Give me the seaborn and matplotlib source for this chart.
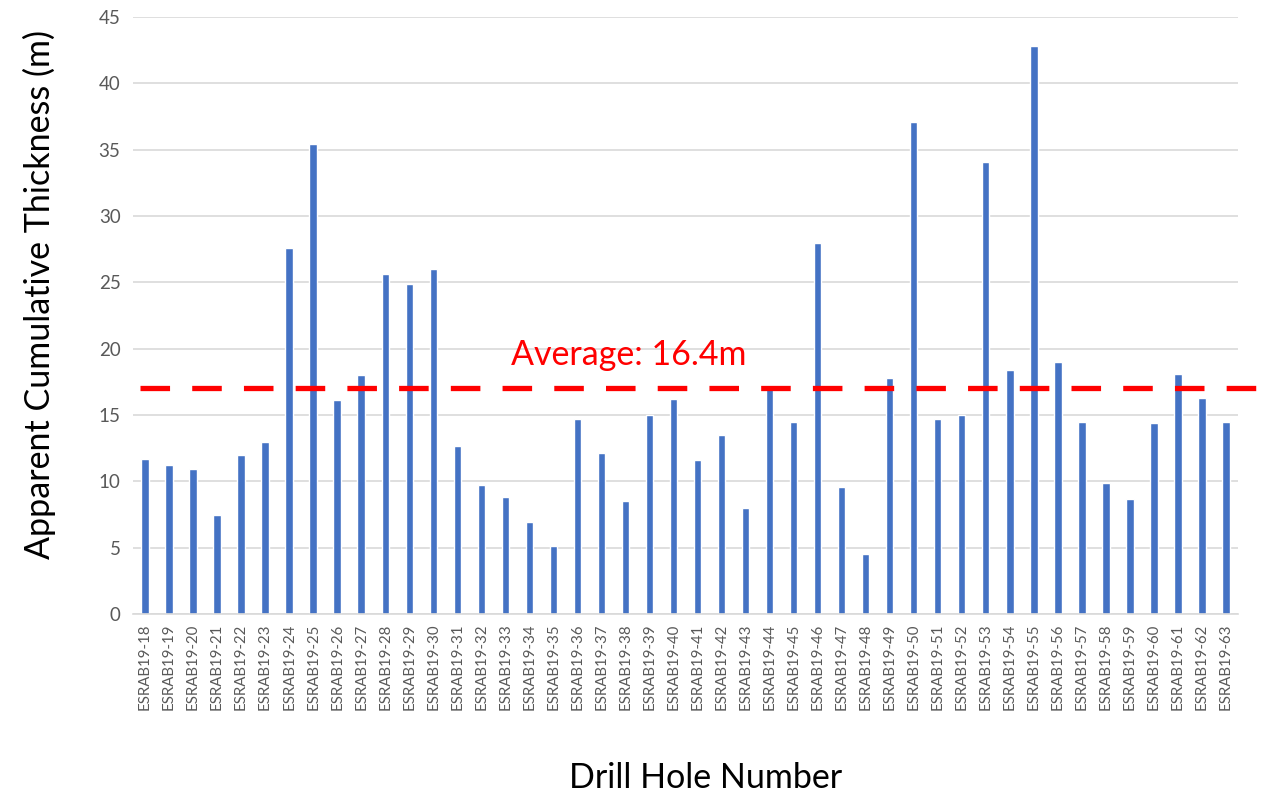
import matplotlib
matplotlib.use("Agg")
import matplotlib.pyplot as plt
import matplotlib.transforms as mtransforms
import seaborn as sns
import pandas as pd

holes = [f"ESRAB19-{n}" for n in range(18, 64)]
thickness = [11.7, 11.2, 10.9, 7.5, 12.0, 13.0, 27.6, 35.4, 16.1, 18.0,
             25.6, 24.9, 26.0, 12.7, 9.7, 8.8, 6.9, 5.1, 14.7, 12.1,
             8.5, 15.0, 16.2, 11.6, 13.5, 8.0, 17.0, 14.5, 28.0, 9.6,
             4.5, 17.8, 37.1, 14.7, 15.0, 34.1, 18.4, 42.8, 19.0, 14.5,
             9.9, 8.7, 14.4, 18.1, 16.3, 14.5]
average_line = 17.05
average_label = "Average: 16.4m"
y_ticks = [0, 5, 10, 15, 20, 25, 30, 35, 40, 45]

df = pd.DataFrame({"hole": holes, "thickness": thickness})

sns.set_theme(style="white")
plt.rcParams['font.family'] = ['Lato', 'DejaVu Sans']

fig = plt.figure(figsize=(12.61, 7.93), dpi=100)
ax = fig.add_axes([133/1261, 1 - 614/793, (1238-133)/1261, (614-17)/793])

sns.barplot(data=df, x="hole", y="thickness", color="#4472C4", width=0.31,
            saturation=1, ax=ax, zorder=2)

ax.set_ylim(0, 45)
ax.set_xlim(-0.5, len(holes) - 0.5)
ax.set_yticks(y_ticks)
ax.set_yticklabels([str(t) for t in y_ticks], fontsize=13.5, color="#595959")
ax.yaxis.grid(True, color="#D9D9D9", linewidth=1.2, zorder=0)
ax.set_axisbelow(True)
for s in ["top", "right", "left"]:
    ax.spines[s].set_visible(False)
ax.spines["bottom"].set_color("#D9D9D9")
ax.spines["bottom"].set_linewidth(1.2)
ax.tick_params(axis="both", length=0, pad=9)
ax.tick_params(axis="x", pad=7)
plt.setp(ax.get_xticklabels(), rotation=90, fontsize=10.8, color="#595959")

ax.set_ylabel("Apparent Cumulative Thickness (m)", fontsize=24.5, color="black")
ax.yaxis.set_label_coords(-0.07, 0.535)
ax.set_xlabel("Drill Hole Number", fontsize=24.5, color="black")
ax.xaxis.set_label_coords(0.5186, -0.248)

trans = mtransforms.blended_transform_factory(ax.transAxes, ax.transData)
ax.plot([0.006, 1.03], [average_line, average_line], transform=trans,
        color="#FF0000", linewidth=3.8, dashes=(5.6, 4.2), clip_on=False, zorder=3)
ax.text(0.342, average_line + 1.3, average_label, transform=trans,
        color="#FF0000", fontsize=24.5, va="bottom", ha="left")

fig.savefig("out.png", dpi=100)
